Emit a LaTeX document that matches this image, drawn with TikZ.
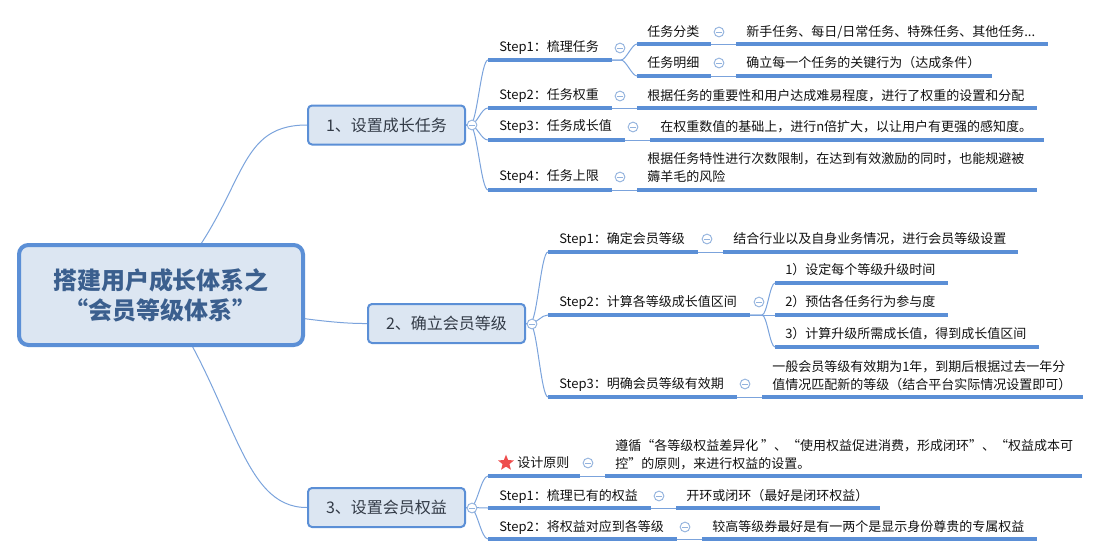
\documentclass[tikz,border=0pt]{standalone}
\usepackage{fontspec}
\setmainfont{Noto Sans CJK SC}
\usetikzlibrary{shapes.geometric,backgrounds}
\definecolor{ulc}{HTML}{5B8FD6}
\definecolor{cnc}{HTML}{7BA3DC}
\definecolor{clc}{HTML}{93B3DE}
\definecolor{boxfill}{HTML}{DCE6F2}
\definecolor{boxdraw}{HTML}{5B8FD6}
\definecolor{roottext}{HTML}{3B5F8E}
\definecolor{brtext}{HTML}{333B47}
\definecolor{txc}{HTML}{111111}
\definecolor{starc}{HTML}{EE4D4D}
\newcommand\mytopic[7]{%
  \coordinate (#1a) at (#2,#4);
  \coordinate (#1b) at (#3,#4);
  \draw[ul] (#1a) -- (#1b);
  \node[tx] (#1) at (#5,#6) {#7};}
\begin{document}
\begin{tikzpicture}[x=0.75pt,y=-0.75pt,
  ul/.style={draw=ulc,line width=2.3pt},
  conn/.style={draw=cnc,line width=0.75pt},
  tx/.style={anchor=west,inner sep=0pt,font=\fontsize{9.75pt}{13.5pt}\selectfont,text=txc,align=left},
  col/.style={circle,draw=clc,fill=white,line width=0.7pt,minimum size=7.3pt,inner sep=0pt,
    path picture={\draw[clc,line width=0.7pt]([xshift=-2pt]path picture bounding box.center)--([xshift=2pt]path picture bounding box.center);}},
  branch/.style={draw=boxdraw,fill=boxfill,line width=1.5pt,rounded corners=3pt,
    minimum width=117.75pt,minimum height=29.25pt,inner sep=0pt,text=brtext,
    font=\fontsize{12pt}{14pt}\selectfont},
  rootbox/.style={draw=boxdraw,fill=boxfill,line width=3pt,rounded corners=7pt,
    minimum width=213pt,minimum height=75pt,inner sep=0pt,align=center,text=roottext,
    font=\fontsize{18pt}{22.5pt}\selectfont\bfseries},
  starnode/.style={star,star points=5,star point ratio=2.3,fill=starc,inner sep=0pt,minimum size=12.5pt}
]
\useasboundingbox (0,0) rectangle (1101,557);

% root and main branches
\node[rootbox] (root) at (161,295) {搭建用户成长体系之\\“会员等级体系”};
\node[branch] (b1) at (386.5,125) {1、设置成长任务};
\node[branch] (b2) at (446.5,323.5) {2、确立会员等级};
\node[branch] (b3) at (386.5,507.5) {3、设置会员权益};

\begin{scope}[on background layer]
\draw[conn] (root.center) .. controls (250,200) and (230,125) .. (b1.west);
\draw[conn] (root.center) .. controls (250,310) and (320,324) .. (b2.west);
\draw[conn] (root.center) .. controls (235,400) and (240,508) .. (b3.west);
\end{scope}

% ---------- branch 1 ----------
\mytopic{s11}{488}{612}{60}{499}{48}{Step1：梳理任务}
\mytopic{t1}{637}{711}{44}{647}{32}{任务分类}
\mytopic{d1}{736}{1048}{44}{746}{32}{新手任务、每日/日常任务、特殊任务、其他任务...}
\mytopic{t2}{637}{711}{76}{647}{63}{任务明细}
\mytopic{d2}{736}{992}{76}{746}{63}{确立每一个任务的关键行为（达成条件）}
\mytopic{s12}{488}{612}{108}{499}{96}{Step2：任务权重}
\mytopic{d12}{637}{1037}{108}{647}{96}{根据任务的重要性和用户达成难易程度，进行了权重的设置和分配}
\mytopic{s13}{488}{625}{140}{499}{127}{Step3：任务成长值}
\mytopic{d13}{650}{1044}{140}{660}{127}{在权重数值的基础上，进行n倍扩大，以让用户有更强的感知度。}
\mytopic{s14}{488}{612}{190}{499}{177}{Step4：任务上限}
\mytopic{d14}{637}{1037}{190}{647}{168}{根据任务特性进行次数限制，在达到有效激励的同时，也能规避被\\薅羊毛的风险}

\draw[conn] (b1.east) -- ++(4,0) .. controls +(7,0) and +(-7,0) .. (s11a);
\draw[conn] (b1.east) -- ++(4,0) .. controls +(7,0) and +(-7,0) .. (s12a);
\draw[conn] (b1.east) -- ++(4,0) .. controls +(7,0) and +(-7,0) .. (s13a);
\draw[conn] (b1.east) -- ++(4,0) .. controls +(7,0) and +(-7,0) .. (s14a);
\draw[conn] (s11b) -- ++(9,0) .. controls +(5,0) and +(-5,0) .. (t1a);
\draw[conn] (s11b) -- ++(9,0) .. controls +(5,0) and +(-5,0) .. (t2a);
\draw[conn] (t1b) -- (d1a);
\draw[conn] (t2b) -- (d2a);
\draw[conn] (s12b) -- (d12a);
\draw[conn] (s13b) -- (d13a);
\draw[conn] (s14b) -- (d14a);

\node[col] (c1) at (472,125) {};
\node[col] (c11) at (620,48) {};
\node[col] (ct1) at (719,32) {};
\node[col] (ct2) at (719,63) {};
\node[col] (c12) at (620,96) {};
\node[col] (c13) at (633,127) {};
\node[col] (c14) at (620,177) {};

% ---------- branch 2 ----------
\mytopic{s21}{548}{698}{252}{559}{239}{Step1：确定会员等级}
\mytopic{d21}{723}{1018}{252}{733}{239}{结合行业以及自身业务情况，进行会员等级设置}
\mytopic{s22}{548}{750}{315}{559}{302}{Step2：计算各等级成长值区间}
\mytopic{e1}{775}{948}{283}{785}{270}{1）设定每个等级升级时间}
\mytopic{e2}{775}{948}{315}{785}{302}{2）预估各任务行为参与度}
\mytopic{e3}{775}{1039}{347}{785}{334}{3）计算升级所需成长值，得到成长值区间}
\mytopic{s23}{548}{737}{397}{559}{384}{Step3：明确会员等级有效期}
\mytopic{d23}{762}{1083}{397}{772}{376}{一般会员等级有效期为1年，到期后根据过去一年分\\值情况匹配新的等级（结合平台实际情况设置即可）}

\draw[conn] (b2.east) -- ++(4,0) .. controls +(7,0) and +(-7,0) .. (s21a);
\draw[conn] (b2.east) -- ++(4,0) .. controls +(7,0) and +(-7,0) .. (s22a);
\draw[conn] (b2.east) -- ++(4,0) .. controls +(7,0) and +(-7,0) .. (s23a);
\draw[conn] (s21b) -- (d21a);
\draw[conn] (s22b) -- ++(12,0) .. controls +(5,0) and +(-5,0) .. (e1a);
\draw[conn] (s22b) -- (e2a);
\draw[conn] (s22b) -- ++(12,0) .. controls +(5,0) and +(-5,0) .. (e3a);
\draw[conn] (s23b) -- (d23a);

\node[col] (c2) at (532,324) {};
\node[col] (c21) at (707,239) {};
\node[col] (c22) at (759,302) {};
\node[col] (c23) at (745,384) {};

% ---------- branch 3 ----------
\mytopic{s31}{488}{580}{476}{517}{463}{设计原则}
\node[starnode] (star) at (506,463) {};
\mytopic{d31}{605}{1082}{476}{615}{455}{遵循“各等级权益差异化 ”、“使用权益促进消费，形成闭环”、“权益成本可\\控”的原则，来进行权益的设置。}
\mytopic{s32}{488}{651}{508}{499}{496}{Step1：梳理已有的权益}
\mytopic{d32}{676}{880}{508}{686}{496}{开环或闭环（最好是闭环权益）}
\mytopic{s33}{488}{677}{539}{499}{527}{Step2：将权益对应到各等级}
\mytopic{d33}{702}{1037}{539}{712}{527}{较高等级券最好是有一两个是显示身份尊贵的专属权益}

\draw[conn] (b3.east) -- ++(4,0) .. controls +(7,0) and +(-7,0) .. (s31a);
\draw[conn] (b3.east) -- ++(4,0) .. controls +(7,0) and +(-7,0) .. (s32a);
\draw[conn] (b3.east) -- ++(4,0) .. controls +(7,0) and +(-7,0) .. (s33a);
\draw[conn] (s31b) -- (d31a);
\draw[conn] (s32b) -- (d32a);
\draw[conn] (s33b) -- (d33a);

\node[col] (c3) at (472,508) {};
\node[col] (c31) at (588,463) {};
\node[col] (c32) at (659,496) {};
\node[col] (c33) at (685,527) {};
\end{tikzpicture}
\end{document}
